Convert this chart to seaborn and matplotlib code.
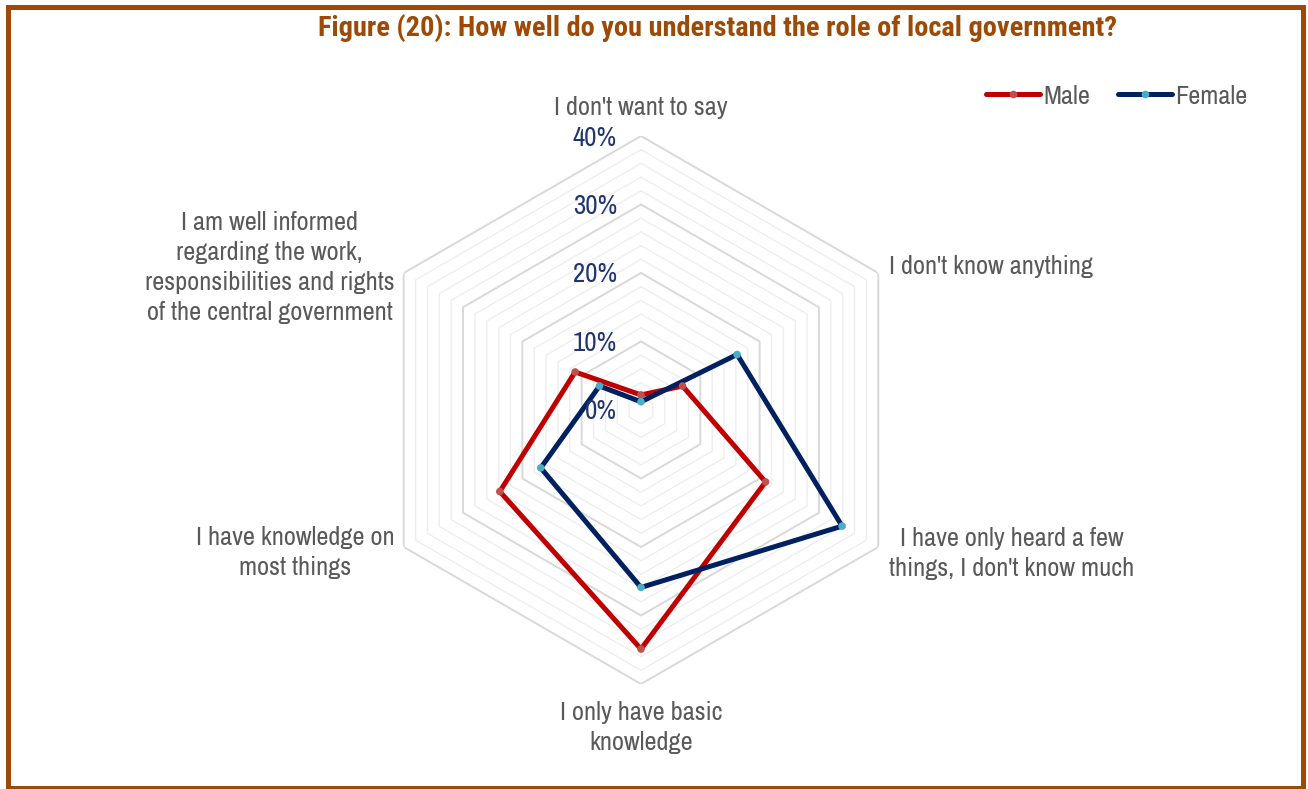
import numpy as np
import pandas as pd
import matplotlib
matplotlib.use("Agg")
import matplotlib.pyplot as plt
import matplotlib.transforms as mtransforms
import matplotlib.patheffects as pe
from matplotlib import font_manager
from matplotlib.lines import Line2D
from matplotlib.patches import Rectangle
import seaborn as sns

# ---- data -------------------------------------------------------------
categories = [
    "I don't want to say",
    "I don't know anything",
    "I have only heard a few\nthings, I don't know much",
    "I only have basic\nknowledge",
    "I have knowledge on\nmost things",
    "I am well informed\nregarding the work,\nresponsibilities and rights\nof the central government",
]
male = [2.2, 7.0, 21.0, 34.9, 23.8, 11.1]
female = [1.2, 16.2, 33.9, 25.9, 16.9, 7.0]
series_names = ["Male", "Female"]
tick_values = [0, 10, 20, 30, 40]
tick_labels = ["0%", "10%", "20%", "30%", "40%"]
title = "Figure (20): How well do you understand the role of local government?"

# ---- fonts ------------------------------------------------------------
sns.set_style("white")
entries = font_manager.fontManager.ttflist
available = {f.name for f in entries}


def is_bold(f):
    w = f.weight
    if isinstance(w, str):
        return w.lower() in ("bold", "heavy", "black", "extra bold", "semibold", "demibold")
    return w >= 600


bold_available = {f.name for f in entries if is_bold(f)}
prefs = ["Liberation Sans Narrow", "Archivo Narrow", "Roboto Condensed", "Liberation Sans"]
narrow = next((f for f in prefs if f in available), "DejaVu Sans")
title_prefs = ["Liberation Sans Narrow", "Archivo Narrow", "Roboto Condensed",
               "Fira Sans Condensed", "IBM Plex Sans Condensed", "Barlow Semi Condensed",
               "Encode Sans Semi Condensed"]
title_font = next((f for f in title_prefs if f in bold_available), None)
fake_bold = title_font is None
if fake_bold:
    title_font = narrow
plt.rcParams["font.family"] = [narrow, "DejaVu Sans"]

line_colors = {"Male": "#c00000", "Female": "#002060"}
marker_colors = {"Male": "#c0504d", "Female": "#4bacc6"}
label_gray = "#595959"
tick_navy = "#1f3470"
brown = "#9c4a06"

W, H, DPI = 1308, 789, 100
fig = plt.figure(figsize=(W / DPI, H / DPI), dpi=DPI)
renderer = fig.canvas.get_renderer()


def fit_size(text, width_px, **kw):
    """Font size at which `text` is width_px wide."""
    t = fig.text(0, 0, text, fontsize=20, **kw)
    w = t.get_window_extent(renderer).width
    t.remove()
    return 20 * width_px / w


label_fs = fit_size("I don't want to say", 174)
tick_fs = fit_size("40%", 44)
title_fs = fit_size(title, 798, family=[title_font, "DejaVu Sans"],
                    fontweight="normal" if fake_bold else "bold")

# polar axes: centre (641, 410) px, outer radius 274 px
cx, cy, R = 641, 410, 274
ax = fig.add_axes([(cx - R) / W, (H - cy - R) / H, 2 * R / W, 2 * R / H], projection="polar")
ax.set_theta_offset(np.pi / 2)
ax.set_theta_direction(-1)
ax.grid(False)
ax.spines["polar"].set_visible(False)
ax.patch.set_alpha(0)

n = len(categories)
angles = np.arange(n) * 2 * np.pi / n
closed_angles = np.append(angles, 2 * np.pi)

# hexagonal grid rings
for r in range(2, 41, 2):
    major = r % 10 == 0
    ax.plot(closed_angles, [r] * (n + 1),
            color="#d9d9d9" if major else "#eeeeee",
            lw=1.4 if major else 1.0, zorder=1)

# long-form table for seaborn
rows = []
for name, vals in zip(series_names, [male, female]):
    for i, a in enumerate(closed_angles):
        rows.append({"series": name, "theta": a, "value": vals[i % n], "order": i})
df = pd.DataFrame(rows)

sns.lineplot(data=df, x="theta", y="value", hue="series", palette=line_colors,
             sort=False, estimator=None, lw=3.6, ax=ax, legend=False, zorder=3)
pts = df[df["order"] < n]
sns.scatterplot(data=pts, x="theta", y="value", hue="series", palette=marker_colors,
                s=30, linewidth=0, ax=ax, legend=False, zorder=4)
ax.set_xlabel("")
ax.set_ylabel("")
ax.set_xticks([])
ax.set_yticks([])
ax.set_ylim(0, 40)

# radial tick labels, left of the vertical axis
offset = mtransforms.ScaledTranslation(-24 / DPI, -2 / DPI, fig.dpi_scale_trans)
for v, lab in zip(tick_values, tick_labels):
    ax.text(0, v, lab, transform=ax.transData + offset, ha="right", va="center",
            fontsize=tick_fs, color=tick_navy)

# category labels
label_pos = [
    (44.2, "center", "center"),
    (41.8, "left", "center"),
    (41.8, "left", "center"),
    (46.3, "center", "center"),
    (41.6, "right", "center"),
    (41.6, "right", "center"),
]
for a, lab, (r, ha, va) in zip(angles, categories, label_pos):
    ax.text(a, r, lab, ha=ha, va=va, multialignment="center",
            fontsize=label_fs, color=label_gray, linespacing=1.38, clip_on=False)

# title
title_kw = dict(family=[title_font, "DejaVu Sans"], color=brown, ha="center", va="center",
                fontsize=title_fs)
if fake_bold:
    title_kw["path_effects"] = [pe.withStroke(linewidth=0.9, foreground=brown)]
else:
    title_kw["fontweight"] = "bold"
fig.text(718 / W, 1 - 28 / H, title, **title_kw)

# legend
handles = [Line2D([0], [0], color=line_colors[s], lw=3.6, marker="o", markersize=5.5,
                  markerfacecolor=marker_colors[s], markeredgewidth=0,
                  solid_capstyle="round") for s in series_names]
fig.legend(handles, series_names, loc="center right", bbox_to_anchor=(1247 / W, 1 - 96 / H),
           ncol=2, frameon=False, fontsize=label_fs, handlelength=2.05, handletextpad=0.12,
           columnspacing=1.05, numpoints=1, labelcolor=label_gray,
           borderpad=0, borderaxespad=0)

# figure frame
fig.patches.append(Rectangle((7.5 / W, 1.0 / H), (1302.5 - 7.5) / W, (782.5 - 1.0) / H,
                             transform=fig.transFigure, fill=False, edgecolor=brown,
                             lw=3.6, zorder=10))

fig.savefig("out.png", dpi=DPI)
